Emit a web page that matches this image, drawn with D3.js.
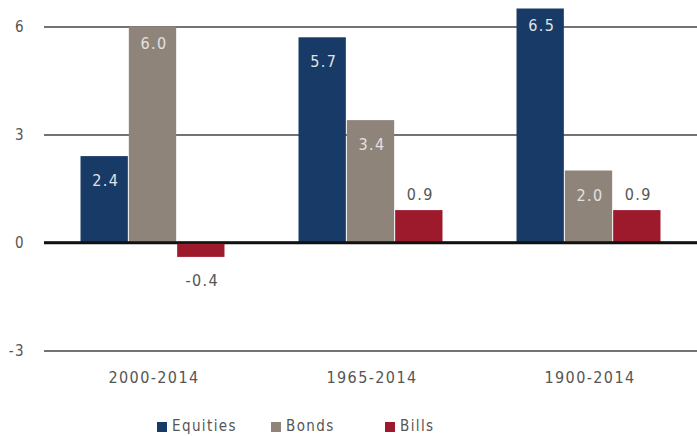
<!DOCTYPE html>
<html>
<head>
<meta charset="utf-8">
<script src="https://cdn.jsdelivr.net/npm/d3@7"></script>
<style>
  body { margin: 0; background: #fff; }
  text { font-family: "DejaVu Sans Condensed", "DejaVu Sans", sans-serif; letter-spacing: 1.4px; }
</style>
</head>
<body>
<svg width="697" height="436"></svg>
<script>
// data
var periods = ["2000-2014", "1965-2014", "1900-2014"];
var seriesNames = ["Equities", "Bonds", "Bills"];
var equities = [2.4, 5.7, 6.5];
var bonds = [6.0, 3.4, 2.0];
var bills = [-0.4, 0.9, 0.9];
var yTicks = [-3, 0, 3, 6];

var colors = ["#173a66", "#8e847a", "#9d1a2d"];
var seriesValues = [equities, bonds, bills];

// plain hyphen for negatives, like the original
var fmtTick = function(d) { return String(d); };
var fmtVal = function(d) { return d3.format(".1f")(d).replace("\u2212", "-"); };

var svg = d3.select("svg");

var x0 = d3.scaleBand()
  .domain(periods)
  .range([44, 698])
  .paddingInner(0.335)
  .paddingOuter(0.1675);

var x1 = d3.scaleBand()
  .domain(seriesNames)
  .range([0, x0.bandwidth()]);

var y = d3.scaleLinear()
  .domain([-3, 6])
  .range([350.5, 26.5]);

// gridlines + y labels
var yAxis = d3.axisLeft(y)
  .tickValues(yTicks)
  .tickSize(-(697 - 44))
  .tickFormat(fmtTick);

var ga = svg.append("g")
  .attr("transform", "translate(44,0)")
  .call(yAxis);
ga.select(".domain").remove();
ga.selectAll(".tick line")
  .attr("stroke-width", function(d) { return d === 0 ? 2.5 : 1.6; })
  .attr("stroke", function(d) { return d === 0 ? "#111" : "#444"; });
ga.selectAll(".tick text")
  .attr("x", -19)
  .attr("fill", "#555")
  .style("font-size", "15px");

// bars
var rows = [];
periods.forEach(function(p, i) {
  seriesNames.forEach(function(s, j) {
    rows.push({period: p, series: s, value: seriesValues[j][i], k: j});
  });
});

var groups = svg.append("g");

groups.selectAll("rect")
  .data(rows)
  .enter().append("rect")
  .attr("x", function(d) { return x0(d.period) + x1(d.series); })
  .attr("width", x1.bandwidth() - 1)
  .attr("y", function(d) { return y(Math.max(0, d.value)); })
  .attr("height", function(d) { return Math.abs(y(d.value) - y(0)); })
  .attr("fill", function(d) { return colors[d.k]; });

// zero line on top of bars
svg.append("line")
  .attr("x1", 44).attr("x2", 697)
  .attr("y1", y(0)).attr("y2", y(0))
  .attr("stroke", "#111")
  .attr("stroke-width", 2.5);

// value labels
groups.selectAll("text.val")
  .data(rows)
  .enter().append("text")
  .attr("class", "val")
  .attr("text-anchor", "middle")
  .attr("x", function(d) { return x0(d.period) + x1(d.series) + x1.bandwidth() / 2 + 1; })
  .attr("y", function(d) {
    if (d.series === "Bills") {
      return d.value < 0 ? y(d.value) + 29 : y(d.value) - 10;
    }
    return y(d.value) + (d.value >= 6 ? 22 : 30);
  })
  .attr("fill", function(d) { return d.series === "Bills" ? "#555" : "#e2e2e2"; })
  .style("font-size", "16px")
  .text(function(d) { return fmtVal(d.value); });

// category labels
svg.append("g").selectAll("text")
  .data(periods)
  .enter().append("text")
  .attr("x", function(d) { return x0(d) + x0.bandwidth() / 2 + 1; })
  .attr("y", 383)
  .attr("text-anchor", "middle")
  .attr("fill", "#555")
  .style("font-size", "16px")
  .text(function(d) { return d; });

// legend
var legendX = [157, 271, 385];
var lg = svg.append("g").selectAll("g")
  .data(seriesNames)
  .enter().append("g")
  .attr("transform", function(d, i) { return "translate(" + legendX[i] + ",426)"; });
lg.append("rect")
  .attr("x", 0).attr("y", -4)
  .attr("width", 10).attr("height", 10)
  .attr("fill", function(d, i) { return colors[i]; });
lg.append("text")
  .attr("x", 15).attr("y", 5)
  .attr("fill", "#555")
  .style("font-size", "15px")
  .text(function(d) { return d; });
</script>
</body>
</html>
